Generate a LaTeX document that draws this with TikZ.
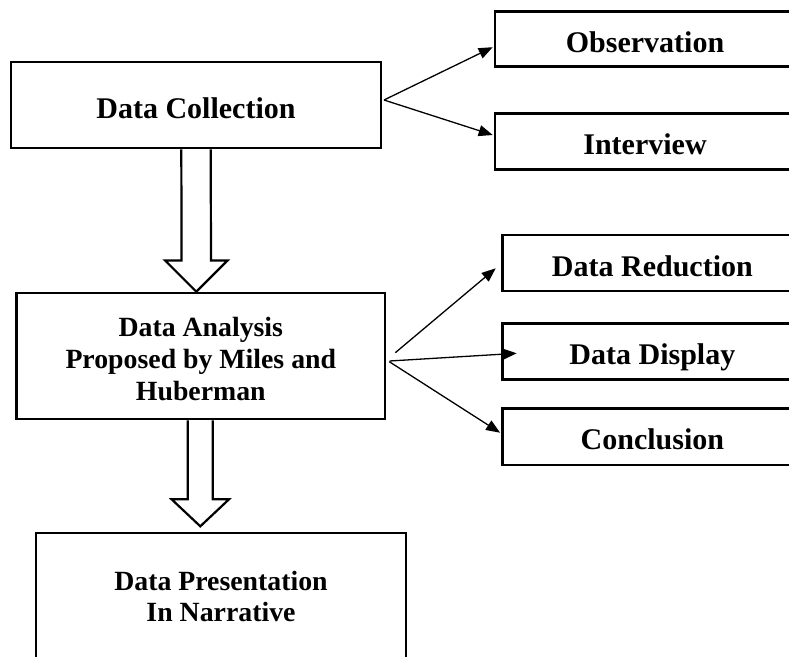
\documentclass[tikz,border=0pt]{standalone}
\usepackage{fontspec}
\setmainfont{Liberation Serif}
\usetikzlibrary{arrows.meta,calc}

% Hollow block arrow: #1 top centre, #2 tip, #3 shaft half width,
% #4 head half width, #5 head length
\newcommand\hollowarrow[5]{%
  \draw[hollow] ($(#1)+(-#3,0)$) -- ($(#2)+(-#3,-#5)$) -- ($(#2)+(-#4,-#5)$)
    -- (#2) -- ($(#2)+(#4,-#5)$) -- ($(#2)+(#3,-#5)$) -- ($(#1)+(#3,0)$);}

\begin{document}
\begin{tikzpicture}[x=1pt,y=-1pt,
  onebox/.style={draw, line width=2.6pt, inner sep=0pt,
    font=\fontsize{30}{34}\selectfont\bfseries,
    text height=26pt, text depth=0pt},
  sidebox/.style={onebox, minimum width=300pt, minimum height=56pt},
  multibox/.style={draw, line width=2.6pt, inner sep=0pt, align=center,
    font=\fontsize{27.8}{32}\selectfont\bfseries},
  conn/.style={line width=1.3pt, -{Triangle[length=14pt,width=11pt]}},
  hollow/.style={line width=2.2pt, line join=miter}]

\fill[white] (0,0) rectangle (789,656);
\useasboundingbox (0,0) rectangle (789,656);
\clip (0,0) rectangle (789,656);

% main column
\node[onebox, minimum width=370pt, minimum height=86pt] (dc) at (196,105) {Data Collection};
\node[multibox, minimum width=368.4pt, minimum height=126pt] (da) at (200.8,356)
  {\rule{0pt}{24.4pt}Data Analysis\\Proposed by Miles and\\Huberman};
\node[multibox, font=\fontsize{27.8}{31.2}\selectfont\bfseries,
  minimum width=370pt, minimum height=127.5pt] (pres) at (221,596.7)
  {Data Presentation\\In Narrative};

% side boxes
\node[sidebox, minimum height=55pt] (obs) at (645,39.2) {Observation};
\node[sidebox] (int) at (645,141.3) {Interview};
\node[sidebox] (red) at (652.4,263) {Data Reduction};
\node[sidebox] (disp) at (652.4,351.3) {Data Display};
\node[sidebox, minimum height=56.7pt] (conc) at (652.4,436.6) {Conclusion};

% block arrows between the stages
\coordinate (h1tip) at ($(dc.south |- da.north)+(0.3,0)$);
\hollowarrow{dc.south}{h1tip}{14.7}{31.3}{31.3}
\coordinate (h2tip) at ($(da.south)+(-0.5,106)$);
\coordinate (h2top) at ($(da.south)+(-0.5,0)$);
\hollowarrow{h2top}{h2tip}{12.5}{28.7}{27}

% branches
\draw[conn] ($(dc.east)+(1.7,-5)$) -- ($(obs.west)+(-1,8)$);
\draw[conn] ($(dc.east)+(1.7,-5)$) -- ($(int.west)+(-1,-6.3)$);
\draw[conn] ($(da.east)+(9,-3.3)$) -- ($(red.west)+(-5.4,5.3)$);
\draw[conn] ($(da.east)+(3.3,5)$) -- ($(disp.west)+(15.6,2)$);
\draw[conn] ($(da.east)+(3,5.7)$) -- ($(conc.west)+(-1,-3.9)$);
\end{tikzpicture}
\end{document}
